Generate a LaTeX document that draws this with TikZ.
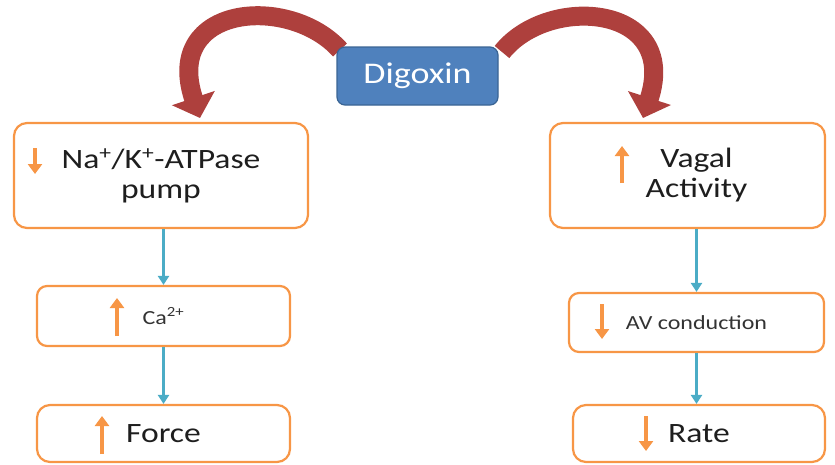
\documentclass[tikz,border=0pt]{standalone}
\usepackage{fontspec}
\setmainfont[FakeStretch=1.2]{Carlito}
\usetikzlibrary{arrows.meta,calc}
\definecolor{boxorange}{HTML}{F79646}
\definecolor{linkblue}{HTML}{4BACC6}
\definecolor{digofill}{HTML}{4F81BD}
\definecolor{digoedge}{HTML}{3A6494}
\definecolor{bendred}{HTML}{AE403D}
\definecolor{txtdark}{HTML}{1E1E1E}
\definecolor{txtgray}{HTML}{333333}
\begin{document}
\begin{tikzpicture}[x=1pt,y=-1pt,
  box/.style={draw=boxorange,line width=2.2pt,fill=white,inner sep=0pt,align=center,text=txtdark},
  bigbox/.style={box,rounded corners=13pt,font=\fontsize{28}{30}\selectfont},
  smallbox/.style={box,rounded corners=10pt},
  drug/.style={draw=digoedge,line width=1.2pt,fill=digofill,rounded corners=8pt,text=white,
    font=\fontsize{30}{32}\selectfont,minimum width=161pt,minimum height=58pt,inner sep=0pt},
  link/.style={draw=linkblue,line width=2.4pt,-{Triangle[length=9pt,width=11pt]}},
  redcurve/.style={draw=bendred,line width=19pt,-{Triangle[length=21pt,width=44pt]}},
  updown/.style={draw=boxorange,line width=3.4pt,-{Triangle[length=10pt,width=14pt]}}]
\useasboundingbox (0,0) rectangle (835,464);
% red bent arrows (behind the drug box)
\coordinate (lefttip) at (200,118);
\coordinate (righttip) at (643,118);
\coordinate (lefttail) at (340,50);
\coordinate (righttail) at (502,52);
\draw[redcurve] (lefttail) .. controls (290,-6) and (162,4) .. (lefttip);
\draw[redcurve] (righttail) .. controls (548,-6) and (680,4) .. (righttip);
% drug
\node[drug] (dig) at (417.5,76) {Digoxin};
% boxes
\node[bigbox,minimum width=294pt,minimum height=105pt] (na) at (161,175.5)
  {Na\textsuperscript{+}/K\textsuperscript{+}-ATPase\\pump};
\node[bigbox,minimum width=275pt,minimum height=105pt] (vagal) at (687.5,175.5)
  {\hspace*{18pt}Vagal\\\hspace*{18pt}Activity};
\node[smallbox,minimum width=253pt,minimum height=60pt,text=txtgray,font=\fontsize{20}{22}\selectfont] (ca) at (163.5,316)
  {Ca\textsuperscript{2+}};
\node[bigbox,minimum width=253pt,minimum height=57pt] (force) at (163.5,433.5) {Force};
\node[smallbox,minimum width=255pt,minimum height=59pt,text=txtgray,font=\fontsize{20}{22}\selectfont] (av) at (696.5,322.5)
  {AV conduction};
\node[bigbox,minimum width=252pt,minimum height=57pt] (rate) at (699,433.5) {Rate};
% connectors
\draw[link] (na.south -| ca.north) -- (ca.north);
\draw[link] (ca.south) -- (force.north);
\draw[link] (vagal.south -| av.north) -- (av.north);
\draw[link] (av.south) -- (rate.north -| av.south);
% orange up/down marks
\draw[updown] (35,148) -- (35,174);
\draw[updown] (622,183) -- (622,146);
\draw[updown] (117,336) -- (117,298);
\draw[updown] (102,454) -- (102,416);
\draw[updown] (602,304) -- (602,339);
\draw[updown] (646,416) -- (646,451);
\end{tikzpicture}
\end{document}
